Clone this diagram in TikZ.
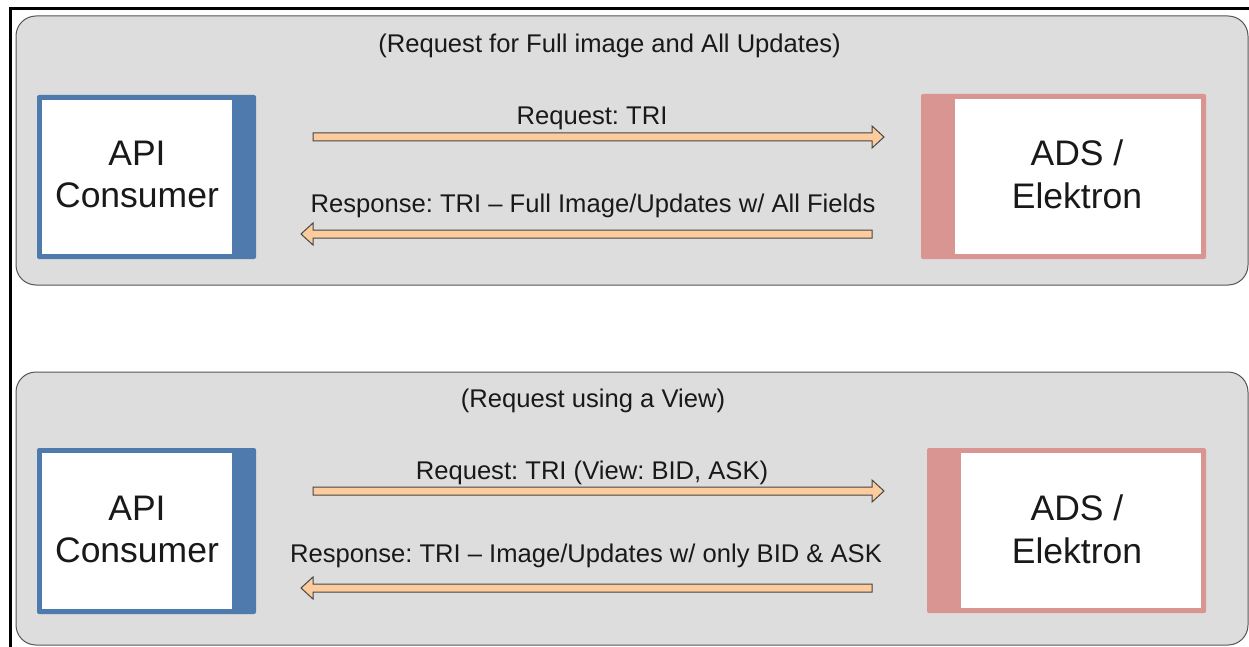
\documentclass[tikz,border=0pt]{standalone}
\usepackage{fontspec}
\setmainfont{Liberation Sans}
\definecolor{panelfill}{RGB}{221,221,221}
\definecolor{panelline}{RGB}{85,85,85}
\definecolor{apiblue}{RGB}{79,122,173}
\definecolor{adspink}{RGB}{217,149,145}
\definecolor{arrowfill}{RGB}{252,204,156}
\definecolor{arrowline}{RGB}{70,70,70}
\definecolor{txt}{RGB}{25,25,25}
\newcommand\blockR[3]{% start x, tip x, y
  \filldraw[fatarrow] (#1,#3-4) -- (#2-12,#3-4) -- (#2-12,#3-11) -- (#2,#3)
    -- (#2-12,#3+11) -- (#2-12,#3+4) -- (#1,#3+4) -- cycle;}
\newcommand\blockL[3]{% tip x, end x, y
  \filldraw[fatarrow] (#2,#3-4) -- (#1+12,#3-4) -- (#1+12,#3-11) -- (#1,#3)
    -- (#1+12,#3+11) -- (#1+12,#3+4) -- (#2,#3+4) -- cycle;}
\begin{document}
\frenchspacing
\begin{tikzpicture}[x=1pt,y=-1pt,
  panel/.style={draw=panelline, line width=1pt, fill=panelfill, rounded corners=20pt},
  outerbox/.style={rectangle, draw=none, rounded corners=2pt, inner sep=0pt},
  innerbox/.style={rectangle, draw=none, fill=white, inner sep=0pt},
  bigtext/.style={align=center, text=txt, inner sep=0pt, font=\fontsize{35.5}{42.5}\selectfont},
  smalltext/.style={text=txt, inner sep=0pt, anchor=base, font=\fontsize{25.6}{30}\selectfont},
  fatarrow/.style={fill=arrowfill, draw=arrowline, line width=1pt, line join=miter}]
\useasboundingbox (0,0) rectangle (1249,647);
\fill[white] (0,0) rectangle (1249,647);
% outer frame
\draw[line width=2.7pt] (10.7,647) -- (10.7,8.7) -- (1249,8.7);
% panels
\draw[panel] (16,16) rectangle (1248,285);
\draw[panel] (16,372) rectangle (1248,645);
% ---- top panel ----
\node[outerbox, fill=apiblue, minimum width=219pt, minimum height=164pt] (apiA) at (146.5,177) {};
\node[innerbox, minimum width=190pt, minimum height=154pt] (apiAin) at (137,177) {};
\node[bigtext] (apiAt) at (137,174.5) {API\\Consumer};
\node[outerbox, fill=adspink, minimum width=285pt, minimum height=165pt] (adsA) at (1063.5,176.5) {};
\node[innerbox, minimum width=246pt, minimum height=155pt] (adsAin) at (1078,176.5) {};
\node[bigtext] (adsAt) at (1077,174.5) {ADS /\\Elektron};
\node[smalltext] (titleA) at (609.5,53) {(Request for Full image and All Updates)};
\node[smalltext] (reqAt) at (592,125) {Request: TRI};
\node[smalltext] (resAt) at (593,212) {Response: TRI \textendash{} Full Image/Updates w/ All Fields};
\blockR{313}{884}{137}
\blockL{301}{872}{234}
% ---- bottom panel ----
\node[outerbox, fill=apiblue, minimum width=219pt, minimum height=166pt] (apiB) at (146.5,531) {};
\node[innerbox, minimum width=190pt, minimum height=156pt] (apiBin) at (137,531) {};
\node[bigtext] (apiBt) at (137,529.5) {API\\Consumer};
\node[outerbox, fill=adspink, minimum width=279pt, minimum height=165pt] (adsB) at (1066.5,530.5) {};
\node[innerbox, minimum width=240pt, minimum height=155pt] (adsBin) at (1081,530.5) {};
\node[bigtext] (adsBt) at (1077,529.5) {ADS /\\Elektron};
\node[smalltext] (titleB) at (593,407) {(Request using a View)};
\node[smalltext] (reqBt) at (592,479) {Request: TRI (View: BID, ASK)};
\node[smalltext] (resBt) at (586,562) {Response: TRI \textendash{} Image/Updates w/ only BID \& ASK};
\blockR{313}{884}{491}
\blockL{301}{872}{588}
\end{tikzpicture}
\end{document}
